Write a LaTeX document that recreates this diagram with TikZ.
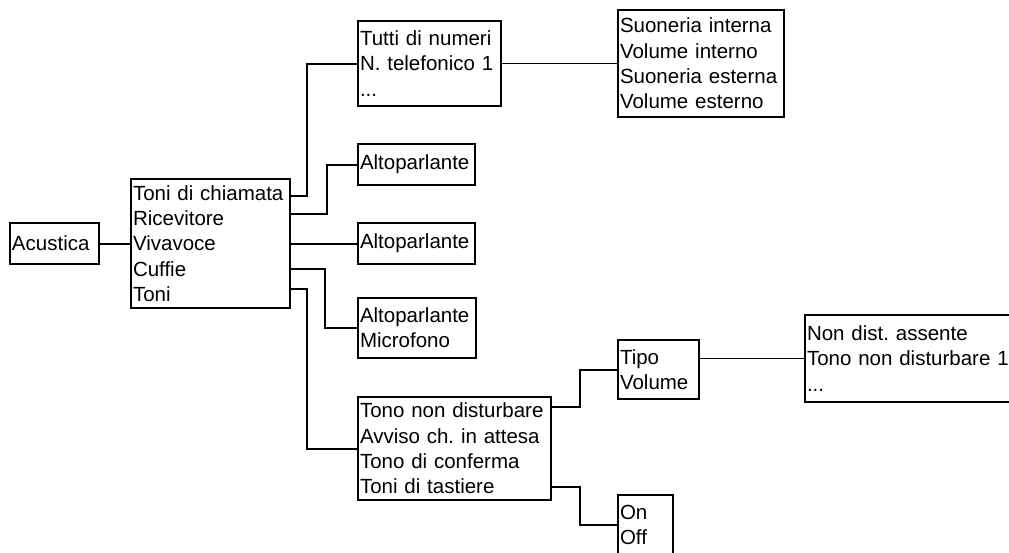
\documentclass[tikz,border=0pt]{standalone}
\usepackage{fontspec}
\setmainfont{Liberation Sans}
\usetikzlibrary{calc}
\begin{document}
\begin{tikzpicture}[x=1pt,y=-1pt,
    menubox/.style={draw,line width=2pt,anchor=north west,align=left,
        inner xsep=2pt,inner ysep=0pt,font=\fontsize{20.5}{25.3}\selectfont\frenchspacing},
    link/.style={line width=2pt},
    thinlink/.style={line width=1.2pt}]
    \useasboundingbox (0,0) rectangle (1009,552);
    \clip (0,0) rectangle (1009,552);
    % menu boxes
    \node[menubox,text width=84.5pt,minimum height=41pt] (acu) at (9,222) {Acustica};
    \node[menubox,text width=154.5pt,minimum height=129pt] (main) at (130,178)
        {Toni di chiamata\\Ricevitore\\Vivavoce\\Cuffie\\Toni};
    \node[menubox,text width=138.5pt,minimum height=85pt] (tutti) at (357,20)
        {Tutti di numeri\\N. telefonico 1\\...};
    \node[menubox,text width=161.5pt,minimum height=107pt] (suon) at (617,9)
        {Suoneria interna\\Volume interno\\Suoneria esterna\\Volume esterno};
    \node[menubox,text width=112.5pt,minimum height=41pt] (alto1) at (357,143) {Altoparlante};
    \node[menubox,text width=112.5pt,minimum height=41pt] (alto2) at (357,222) {Altoparlante};
    \node[menubox,text width=113.5pt,minimum height=60pt] (altomic) at (357,297)
        {Altoparlante\\Microfono};
    \node[menubox,text width=188.5pt,minimum height=103pt] (tono) at (357,396)
        {Tono non disturbare\\Avviso ch. in attesa\\Tono di conferma\\Toni di tastiere};
    \node[menubox,text width=76.5pt,minimum height=59pt] (tipo) at (617,339) {Tipo\\Volume};
    \node[menubox,text width=225pt,minimum height=87pt] (nondist) at (804,314)
        {Non dist. assente\\Tono non disturbare 1\\...};
    \node[menubox,text width=50.5pt,minimum height=60pt] (onoff) at (617,494) {On\\Off};
    % connectors
    \draw[link] (acu.east) -- (main.west);
    \draw[link] ([yshift=47.5pt]main.east) -- ++(16,0) |- (tutti.west);
    \draw[link] ([yshift=29.5pt]main.east) -- ++(36,0) |- (alto1.west);
    \draw[link] (main.east) -- (alto2.west);
    \draw[link] ([yshift=-25.5pt]main.east) -- ++(34,0) |- (altomic.west);
    \draw[link] ([yshift=-45.5pt]main.east) -- ++(16,0) |- (tono.west);
    \draw[link] ([yshift=41.5pt]tono.east) -- ++(28,0) |- (tipo.west);
    \draw[link] ([yshift=-38.5pt]tono.east) -- ++(28,0) |- (onoff.west);
    \draw[thinlink] (tutti.east) -- (suon.west);
    \draw[thinlink] (tipo.east |- nondist.west) -- (nondist.west);
\end{tikzpicture}
\end{document}
